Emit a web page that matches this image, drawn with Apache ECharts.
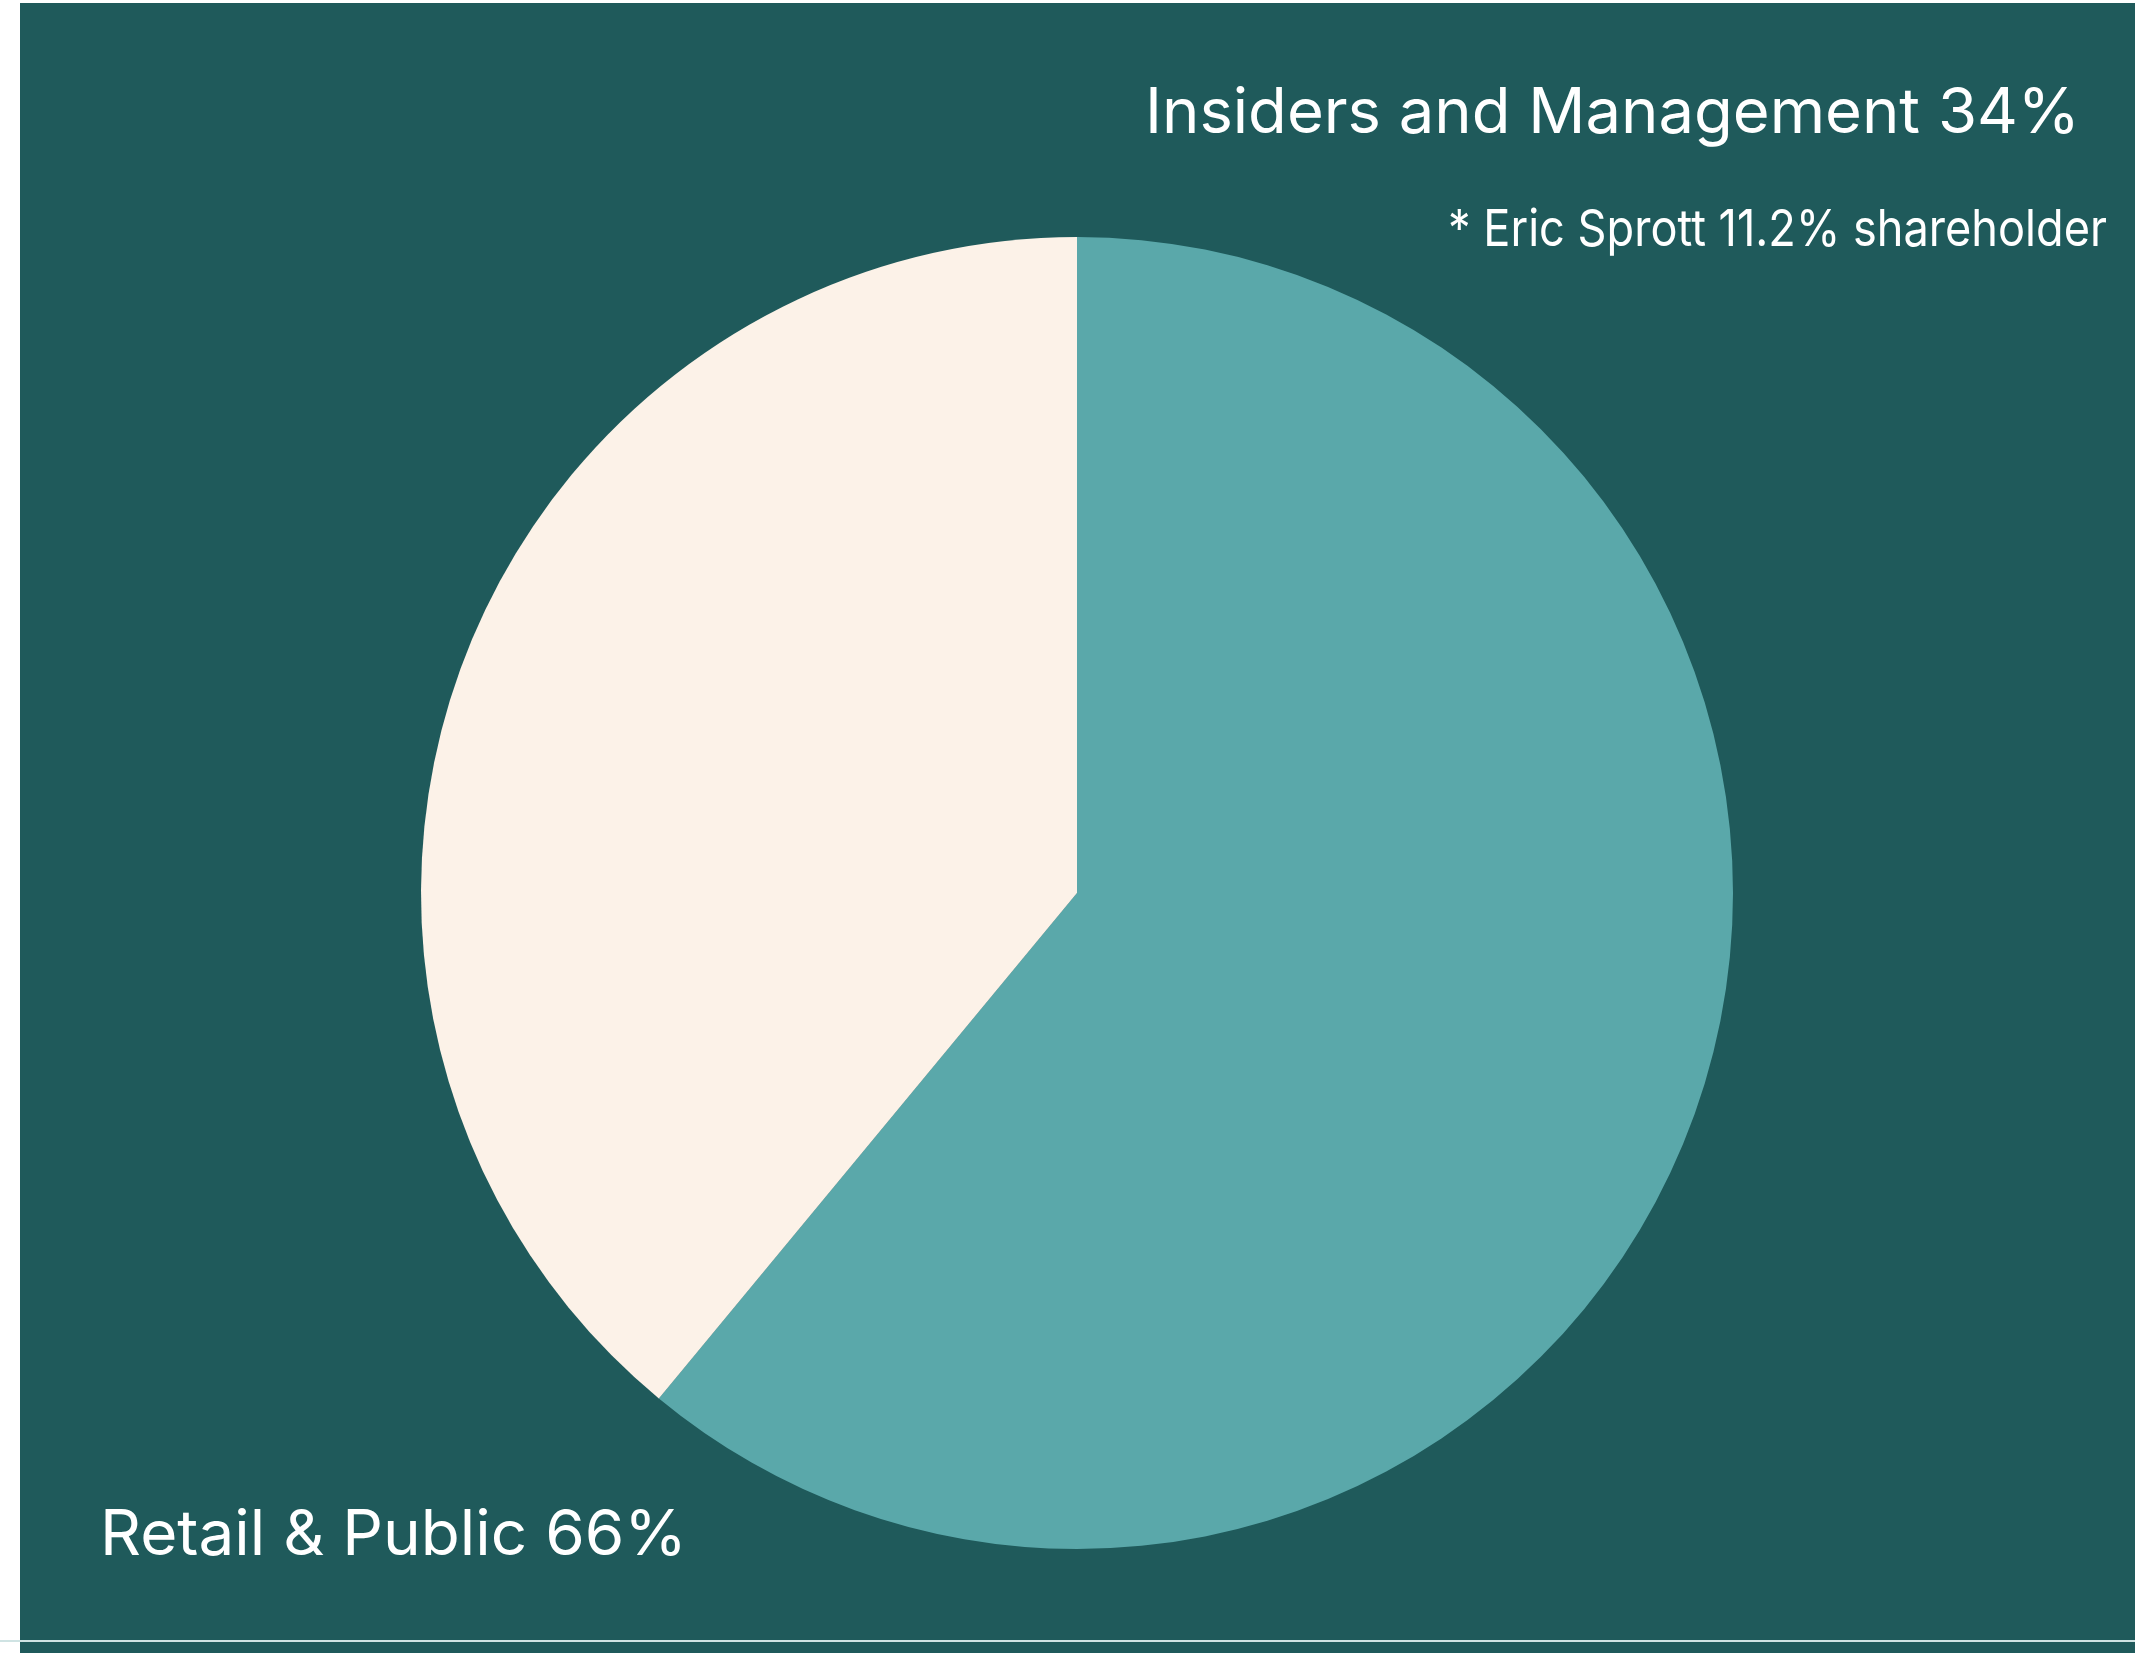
<!DOCTYPE html>
<html>
<head>
<meta charset="utf-8">
<script src="https://cdn.jsdelivr.net/npm/echarts@6/dist/echarts.min.js"></script>
<style>
html,body{margin:0;padding:0;background:#ffffff;}
#c{width:2145px;height:1653px;}
</style>
</head>
<body>
<div id="c"></div>
<script>
// Data
const categories = ['Retail & Public', 'Insiders and Management'];
const sliceValues = [61, 39];           // slice sizes as drawn in the picture
const labelTexts = ['Retail & Public 66%', 'Insiders and Management 34%'];
const noteText = '* Eric Sprott 11.2% shareholder';
const sliceColors = ['#5aa8aa', '#fcf2e8'];

const chart = echarts.init(document.getElementById('c'), null, {renderer: 'canvas'});
const FAMILY = 'Inter, "Open Sans", sans-serif';

// helper: horizontal scale so a text spans a given width
const mctx = document.createElement('canvas').getContext('2d');
function fitScale(text, font, targetW) {
  mctx.font = font;
  const w = mctx.measureText(text).width;
  return w > 0 ? targetW / w : 1;
}
function textEl(text, size, x, y, targetW) {
  const font = '400 ' + size + 'px ' + FAMILY;
  return {
    type: 'text', z: 10, x: x, y: y,
    scaleX: fitScale(text, font, targetW), originX: 0, originY: 0,
    style: {text: text, fill: '#ffffff', font: font, textAlign: 'left', textVerticalAlign: 'top'}
  };
}

chart.setOption({
  backgroundColor: '#ffffff',
  animation: false,
  graphic: [
    {type: 'rect', z: -10, shape: {x: 20, y: 3, width: 2115, height: 1650}, style: {fill: '#1f5a5b'}},
    {type: 'rect', z: -9, shape: {x: 0, y: 1640, width: 2135, height: 2}, style: {fill: '#cfe3e3'}},
    textEl(labelTexts[1], 63, 1145, 83, 935),
    textEl(noteText, 51, 1448, 205, 659),
    textEl(labelTexts[0], 63, 100, 1505, 587)
  ],
  series: [{
    type: 'pie',
    center: [1077, 893],
    radius: 656,
    startAngle: 90,
    clockwise: true,
    silent: true,
    label: {show: false},
    labelLine: {show: false},
    itemStyle: {borderWidth: 0},
    data: categories.map((n, i) => ({name: n, value: sliceValues[i], itemStyle: {color: sliceColors[i]}}))
  }]
});
</script>
</body>
</html>
